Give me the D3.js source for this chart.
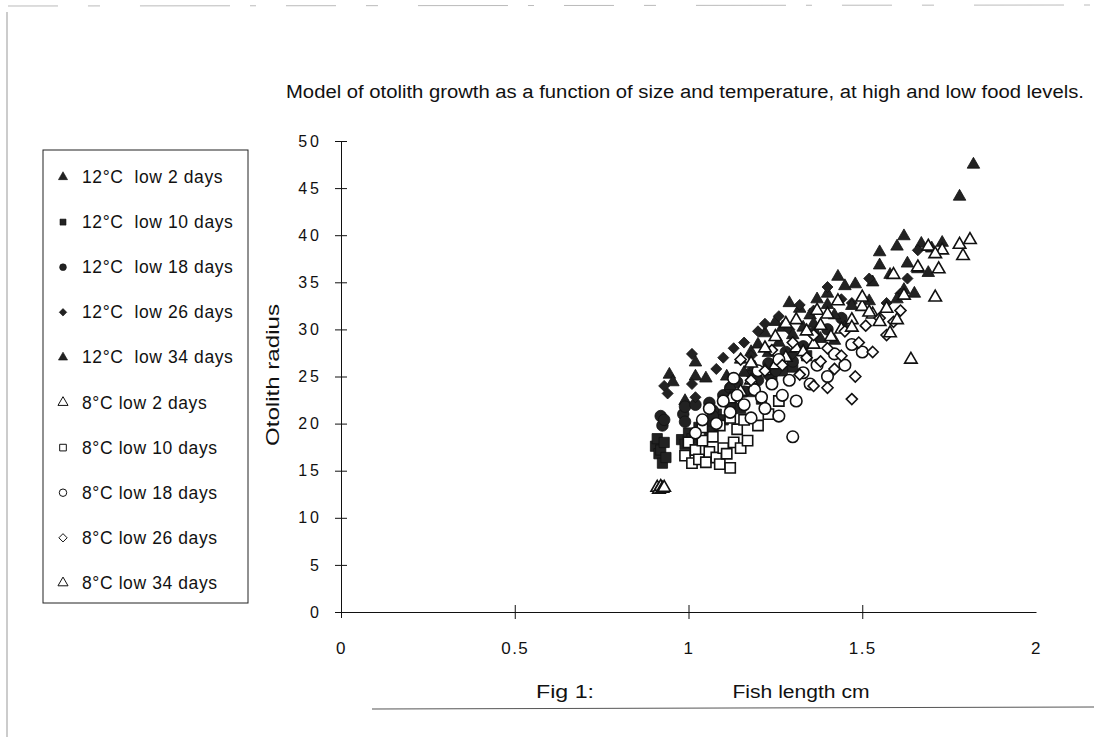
<!DOCTYPE html>
<html>
<head>
<meta charset="utf-8">
<script src="https://cdn.jsdelivr.net/npm/d3@7"></script>
<style>
  body { margin: 0; background: #fff; }
  text { font-family: "Liberation Sans", Arial, sans-serif; fill: #111; }
</style>
</head>
<body>
<svg id="chart"></svg>
<script>
var width = 1094;
var height = 737;

var seriesNames = [
  "12°C  low 2 days", "12°C  low 10 days", "12°C  low 18 days", "12°C  low 26 days", "12°C  low 34 days",
  "8°C low 2 days", "8°C low 10 days", "8°C low 18 days", "8°C low 26 days", "8°C low 34 days"
];
var xTicks = [0, 0.5, 1, 1.5, 2];
var yTicks = [0, 5, 10, 15, 20, 25, 30, 35, 40, 45, 50];

// [fish length cm, otolith radius]
var warm2 = [[0.945,25.2],[0.955,24.4],[0.99,22.4],[1.02,26.5],[1.02,25.0],[1.05,24.8],[1.11,25.0],[1.15,26.8],[1.18,27.6],[1.2,28.4],[1.22,29.6],[1.25,30.8],[1.27,30.2],[1.29,32.8],[1.32,32.2],[1.35,31.5],[1.37,33.2],[1.40,33.8],[1.43,35.6],[1.45,34.6],[1.48,34.8],[1.53,35.0],[1.55,38.2],[1.60,38.8],[1.62,39.9],[1.67,39.1],[1.73,39.2],[1.78,44.1],[1.82,47.5]];
var warm10 = [[0.905,17.6],[0.91,18.4],[0.915,16.8],[0.92,17.2],[0.925,15.8],[0.93,18.0],[0.935,16.4],[0.98,18.3],[0.99,17.8],[1.00,19.0],[1.01,18.4],[1.03,19.6],[1.05,20.2],[1.06,19.2],[1.08,21.0],[1.10,20.4],[1.12,22.0],[1.15,21.6],[1.18,23.4],[1.21,22.6],[1.24,24.8],[1.27,25.6],[1.30,26.0],[1.34,27.2]];
var warm18 = [[0.92,20.8],[0.925,19.8],[0.93,20.4],[0.985,21.0],[0.99,20.2],[0.99,21.8],[1.06,22.2],[1.07,21.4],[1.10,23.0],[1.12,23.8],[1.14,24.4],[1.16,23.4],[1.18,25.4],[1.20,24.6],[1.23,26.4],[1.25,25.6],[1.28,27.6],[1.30,26.6],[1.33,28.2],[1.36,29.6],[1.40,30.0],[1.44,31.2],[1.07,20.8],[1.02,22.0]];
var warm26 = [[0.93,24.0],[0.94,23.2],[1.01,27.4],[1.01,24.2],[1.02,22.8],[1.08,25.8],[1.10,27.0],[1.13,28.0],[1.16,28.6],[1.18,27.2],[1.20,29.8],[1.22,30.6],[1.26,31.4],[1.29,30.0],[1.32,32.6],[1.36,32.0],[1.40,34.5],[1.44,33.2],[1.47,32.8],[1.52,35.4],[1.57,32.8],[1.61,33.8],[1.63,35.4],[1.66,38.4],[1.23,25.0],[1.30,27.4]];
var warm34 = [[1.12,24.0],[1.16,25.4],[1.19,26.0],[1.23,27.5],[1.26,28.6],[1.30,29.4],[1.33,30.2],[1.36,30.6],[1.40,32.6],[1.42,31.5],[1.45,30.2],[1.47,32.5],[1.52,33.0],[1.55,36.8],[1.58,35.8],[1.60,33.2],[1.62,34.2],[1.63,37.0],[1.65,33.8],[1.66,36.4],[1.69,36.0],[1.70,38.6],[1.42,28.8],[1.38,29.0]];
var cold2 = [[0.91,13.2],[0.915,13.0],[0.92,13.3],[0.925,13.1],[0.93,13.2],[1.12,22.6],[1.15,23.4],[1.18,24.6],[1.22,25.6],[1.25,26.2],[1.28,27.0],[1.31,28.0],[1.33,27.6],[1.36,28.4],[1.38,30.4],[1.41,29.2],[1.44,30.0],[1.47,31.0],[1.50,32.4],[1.53,31.6]];
var cold10 = [[0.99,16.6],[1.00,18.0],[1.01,15.8],[1.02,17.2],[1.03,16.2],[1.04,18.2],[1.05,15.9],[1.06,17.0],[1.07,18.6],[1.08,16.4],[1.09,15.7],[1.10,17.4],[1.11,16.8],[1.12,15.3],[1.13,18.0],[1.14,19.4],[1.15,17.4],[1.16,20.4],[1.17,18.2],[1.04,19.6],[1.09,19.8],[1.12,20.6],[1.20,19.8],[1.23,21.0],[1.26,22.4]];
var cold18 = [[1.02,19.0],[1.04,20.4],[1.06,21.6],[1.08,20.0],[1.10,22.4],[1.12,21.2],[1.14,23.0],[1.16,22.0],[1.18,20.6],[1.19,23.6],[1.21,22.8],[1.22,21.6],[1.24,24.2],[1.26,20.8],[1.27,23.0],[1.29,24.6],[1.30,18.6],[1.31,22.4],[1.33,25.4],[1.35,24.2],[1.37,26.2],[1.40,25.0],[1.42,27.4],[1.45,26.2],[1.47,28.4],[1.50,27.6],[1.13,24.8],[1.20,25.6],[1.26,26.8]];
var cold26 = [[1.15,26.8],[1.18,24.6],[1.22,25.6],[1.24,27.8],[1.27,26.2],[1.30,28.6],[1.32,25.2],[1.34,27.0],[1.36,29.4],[1.38,26.6],[1.40,28.0],[1.42,25.8],[1.44,27.2],[1.45,29.8],[1.47,22.6],[1.49,28.6],[1.51,30.4],[1.53,27.6],[1.55,31.2],[1.57,29.4],[1.59,30.8],[1.61,32.0],[1.36,24.0],[1.40,23.8],[1.48,25.0]];
var cold34 = [[1.18,26.4],[1.22,28.0],[1.25,29.2],[1.28,30.6],[1.31,31.0],[1.34,29.8],[1.37,32.0],[1.40,31.6],[1.43,33.0],[1.47,30.2],[1.50,33.4],[1.52,31.8],[1.55,30.8],[1.57,32.2],[1.58,29.6],[1.60,31.0],[1.62,33.6],[1.59,35.8],[1.64,26.8],[1.66,36.6],[1.69,38.8],[1.71,33.4],[1.72,36.4],[1.73,38.4],[1.78,39.0],[1.79,37.8],[1.81,39.5],[1.71,38.0]];

var seriesData = [warm2, warm10, warm18, warm26, warm34, cold2, cold10, cold18, cold26, cold34];
var diamond = d3.symbolDiamond2 || d3.symbolDiamond;
var shapes = [d3.symbolTriangle, d3.symbolSquare, d3.symbolCircle, diamond, d3.symbolTriangle,
              d3.symbolTriangle, d3.symbolSquare, d3.symbolCircle, diamond, d3.symbolTriangle];
var sizes = [68, 105, 105, 78, 68, 68, 105, 105, 78, 68];

var svg = d3.select('#chart')
    .attr('width', width)
    .attr('height', height);

// scanned page edges
svg.append('line').attr('x1', 7).attr('y1', 12).attr('x2', 7).attr('y2', 737)
    .attr('stroke', '#999').attr('stroke-width', 1);
svg.append('line').attr('x1', 8).attr('y1', 6).attr('x2', 1094).attr('y2', 5)
    .attr('stroke', '#bbb').attr('stroke-width', 1).attr('stroke-dasharray', '50,30,12,40,90,20,6,30');
svg.append('line').attr('x1', 372).attr('y1', 709).attr('x2', 1094).attr('y2', 707)
    .attr('stroke', '#555').attr('stroke-width', 1);

var x = d3.scaleLinear().domain([0, 2]).range([341, 1036]);
var y = d3.scaleLinear().domain([0, 50]).range([612, 141]);

// title
svg.append('text')
    .attr('x', 286).attr('y', 98)
    .attr('textLength', 798).attr('lengthAdjust', 'spacingAndGlyphs')
    .style('font-size', '18px')
    .text('Model of otolith growth as a function of size and temperature, at high and low food levels.');

// y axis
var yAxis = d3.axisLeft(y).tickValues(yTicks).tickSize(0).tickPadding(19);
var gy = svg.append('g').attr('transform', 'translate(341,0)').call(yAxis);
gy.select('.domain').attr('stroke', '#111');
gy.selectAll('text').style('font-size', '16px').style('letter-spacing', '3px').attr('fill', '#111');
gy.selectAll('.tick').append('line')
    .attr('x1', -6).attr('x2', 6).attr('stroke', '#111');

// x axis
var xAxis = d3.axisBottom(x).tickValues(xTicks).tickSize(0).tickPadding(30)
    .tickFormat(d3.format('~g'));
var gx = svg.append('g').attr('transform', 'translate(0,612)').call(xAxis);
gx.select('.domain').attr('stroke', '#111');
gx.selectAll('text').style('font-size', '17px').style('letter-spacing', '1.5px').attr('fill', '#111');
gx.selectAll('.tick').filter(function(d) { return d > 0 && d < 2; }).append('line')
    .attr('y1', -7).attr('y2', 7).attr('stroke', '#111');
gx.selectAll('.tick').filter(function(d) { return d == 0; }).append('line')
    .attr('y1', 0).attr('y2', 6).attr('stroke', '#111');

// axis titles
svg.append('text')
    .attr('transform', 'translate(279,375) rotate(-90)')
    .attr('text-anchor', 'middle')
    .attr('textLength', 142).attr('lengthAdjust', 'spacingAndGlyphs')
    .style('font-size', '19px')
    .text('Otolith radius');
svg.append('text')
    .attr('x', 801).attr('y', 698)
    .attr('text-anchor', 'middle')
    .attr('textLength', 137).attr('lengthAdjust', 'spacingAndGlyphs')
    .style('font-size', '18px')
    .text('Fish length cm');
svg.append('text')
    .attr('x', 565).attr('y', 698)
    .attr('text-anchor', 'middle')
    .attr('textLength', 58).attr('lengthAdjust', 'spacingAndGlyphs')
    .style('font-size', '18px')
    .text('Fig 1:');

// points
var plot = svg.append('g');
seriesData.forEach(function(pts, i) {
    var filled = i < 5;
    plot.selectAll('.s' + i)
        .data(pts)
        .enter()
        .append('path')
        .attr('class', 's' + i)
        .attr('d', d3.symbol().type(shapes[i]).size(sizes[i]))
        .attr('transform', function(d) { return 'translate(' + x(d[0]) + ',' + y(d[1]) + ')'; })
        .attr('fill', filled ? '#222' : '#fff')
        .attr('stroke', '#111')
        .attr('stroke-width', filled ? 0.8 : 1.6);
});

// legend
var legend = svg.append('g');
legend.append('rect')
    .attr('x', 43).attr('y', 150).attr('width', 205).attr('height', 453)
    .attr('fill', 'none').attr('stroke', '#222').attr('stroke-width', 1);

var item = legend.selectAll('.item')
    .data(seriesNames)
    .enter()
    .append('g')
    .attr('transform', function(d, i) { return 'translate(63,' + (177 + i * 45.1) + ')'; });
item.append('path')
    .attr('d', function(d, i) { return d3.symbol().type(shapes[i]).size(i < 5 ? 36 : 44)(); })
    .attr('fill', function(d, i) { return i < 5 ? '#222' : '#fff'; })
    .attr('stroke', '#111')
    .attr('stroke-width', function(d, i) { return i < 5 ? 0.6 : 1; });
item.append('text')
    .attr('x', 19).attr('y', 6)
    .style('font-size', '17.5px')
    .style('letter-spacing', '0.6px')
    .style('white-space', 'pre')
    .text(function(d) { return d; });
</script>
</body>
</html>
